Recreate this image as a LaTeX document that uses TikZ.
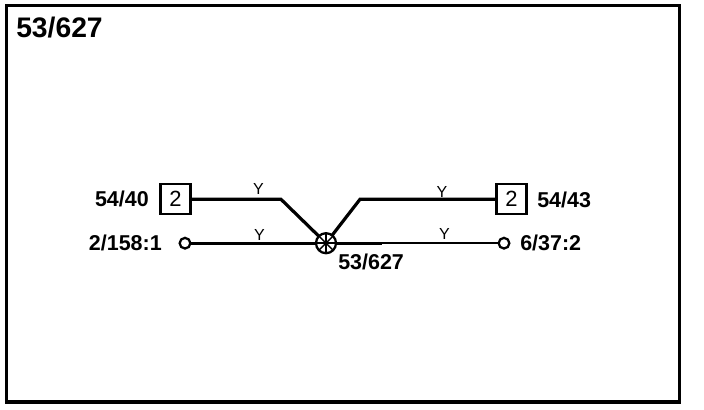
\documentclass[tikz,border=0pt]{standalone}
\usepackage{fontspec}
\usetikzlibrary{calc}
\setmainfont{Liberation Sans}
\tikzset{
  x=0.75pt,y=-0.75pt,
  wire/.style={line width=2.4pt,line cap=butt,line join=miter},
  thinwire/.style={line width=1.6pt},
  lbl/.style={font=\bfseries\fontsize{16.1}{18}\selectfont,inner sep=0pt},
  ttl/.style={font=\bfseries\fontsize{21.2}{23}\selectfont,inner sep=0pt},
  ylbl/.style={font=\fontsize{12}{14}\selectfont,inner sep=0pt},
  pinbox/.style={draw,line width=1.6pt,minimum size=22.5pt,inner sep=0pt,font=\fontsize{16.5}{18}\selectfont},
  term/.style={circle,draw,line width=1.7pt,fill=white,minimum size=8pt,inner sep=0pt}
}
\begin{document}
\begin{tikzpicture}
\useasboundingbox (0,0) rectangle (704,410);
\fill[white] (0,0) rectangle (704,410);
\draw[line width=2.3pt] (6.5,5.5) rectangle (679.5,402);
\node[ttl,anchor=west] (title) at (16,27.5) {53/627};
\coordinate (jn) at (326,243.2);
\coordinate (bendL) at (281,199.3);
\coordinate (bendR) at (360,199.3);
\coordinate (thinStart) at (382,243.2);
\node[pinbox] (boxL) at (175.5,199.3) {2};
\node[pinbox] (boxR) at (511.5,199.3) {2};
\node[term] (tL) at (185,243.2) {};
\node[term] (tR) at (504,243.2) {};
\draw[wire] (boxL) -- (bendL) -- (jn);
\draw[wire] (boxR) -- (bendR) -- (jn);
\draw[wire] (tL) -- (jn) -- (thinStart);
\draw[thinwire] (thinStart) -- (tR);
\fill[white] (jn) circle (7.5pt);
\draw[line width=1.7pt] (jn) circle (7.5pt);
\foreach \a in {0,45,90,135}{
  \draw[line width=1.1pt] ($(jn)+(\a:10)$) -- ($(jn)+(\a+180:10)$);
}
\node[lbl,anchor=east] (l1) at (149,199) {54/40};
\node[lbl,anchor=east] (l2) at (162,243) {2/158:1};
\node[lbl,anchor=west] (l3) at (537,200) {54/43};
\node[lbl,anchor=west] (l4) at (520,243) {6/37:2};
\node[lbl,anchor=west] (l5) at (338,262) {53/627};
\node[ylbl] (y1) at (258.5,189) {Y};
\node[ylbl] (y2) at (259.5,235) {Y};
\node[ylbl] (y3) at (442,191.5) {Y};
\node[ylbl] (y4) at (444.5,234) {Y};
\end{tikzpicture}
\end{document}
